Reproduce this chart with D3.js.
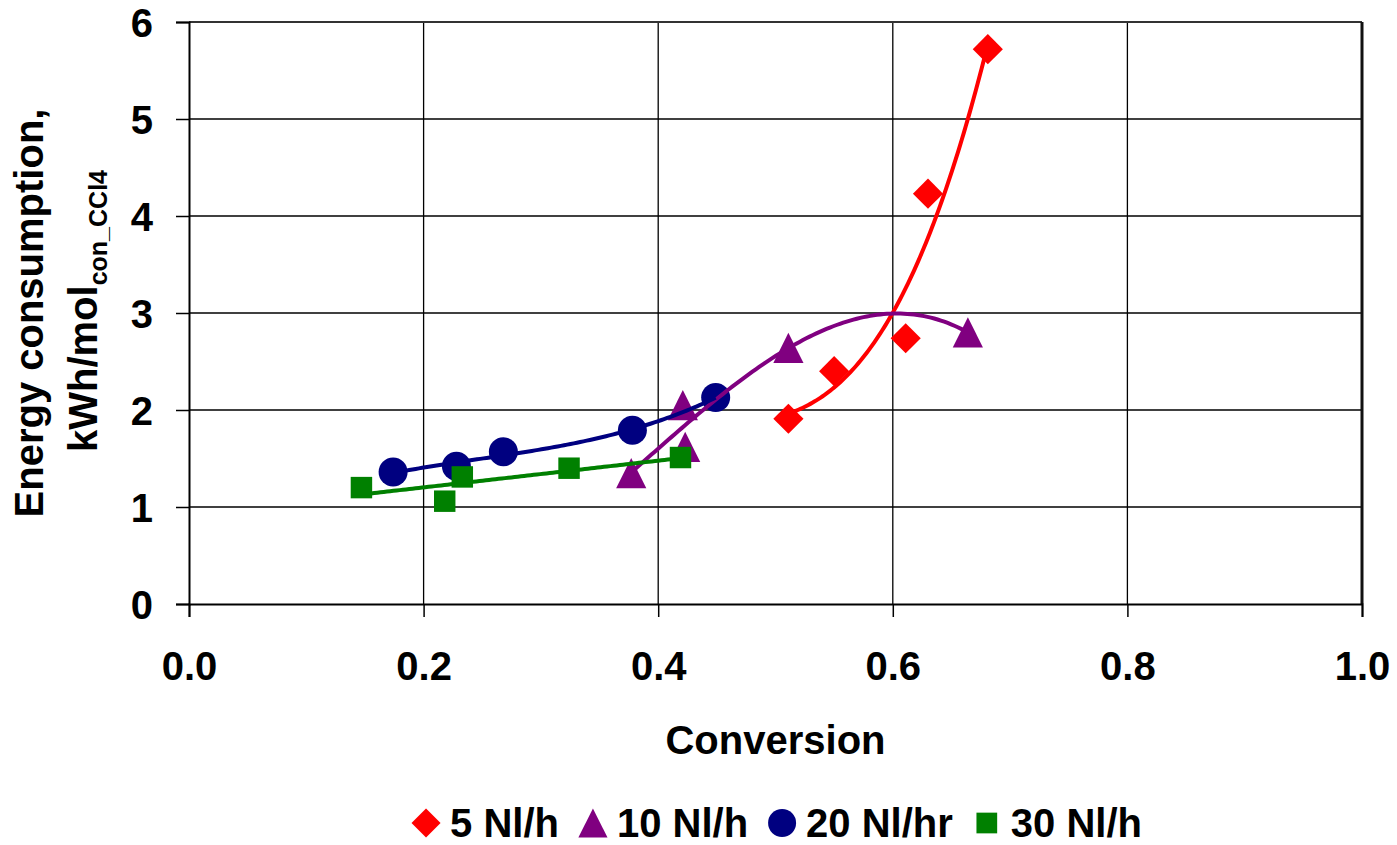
<!DOCTYPE html>
<html>
<head>
<meta charset="utf-8">
<script src="https://cdn.jsdelivr.net/npm/d3@7"></script>
<style>
  body { margin: 0; background: #fff; }
  text { font-family: 'Liberation Sans', Arial, sans-serif; font-weight: bold; fill: #000; }
</style>
</head>
<body>
<svg id="chart" width="1397" height="845"></svg>
<script>
// values
var seriesNames = ['5 Nl/h', '10 Nl/h', '20 Nl/hr', '30 Nl/h']
var x5 = [0.511, 0.550, 0.611, 0.630, 0.681]
var y5 = [1.91, 2.40, 2.74, 4.23, 5.72]
var x10 = [0.377, 0.423, 0.421, 0.511, 0.664]
var y10 = [1.35, 1.62, 2.05, 2.64, 2.80]
var x20 = [0.174, 0.228, 0.268, 0.378, 0.449]
var y20 = [1.36, 1.42, 1.57, 1.79, 2.13]
var x30 = [0.147, 0.218, 0.233, 0.324, 0.419]
var y30 = [1.20, 1.06, 1.31, 1.40, 1.51]
var xTicks = [0, 0.2, 0.4, 0.6, 0.8, 1.0]
var yTicks = [0, 1, 2, 3, 4, 5, 6]

var colors = ['#ff0000', '#800080', '#000080', '#008000']
var shapes = ['diamond', 'triangle', 'circle', 'square']
// trend line order used for each series (Excel polynomial / linear)
var trendOrder = [3, 3, 3, 1]

var series = [[x5, y5], [x10, y10], [x20, y20], [x30, y30]].map(function(s, i) {
  return {
    name: seriesNames[i], color: colors[i], shape: shapes[i], order: trendOrder[i],
    points: s[0].map(function(x, j) { return [x, s[1][j]] })
  }
})

var margin = {top: 22, right: 35, bottom: 241, left: 189}
var width = 1397 - margin.left - margin.right,
  height = 845 - margin.top - margin.bottom

var svg = d3.select('#chart')
var g = svg.append('g').attr('transform', 'translate(' + margin.left + ',' + margin.top + ')')

var x = d3.scaleLinear().domain([0, 1]).range([0, width])
var y = d3.scaleLinear().domain([0, 6]).range([height, 0])

// least squares polynomial fit
function polyfit(pts, order) {
  var n = order + 1
  var A = d3.range(n).map(function() { return d3.range(n + 1).map(function() { return 0 }) })
  pts.forEach(function(p) {
    for (var i = 0; i < n; i++) {
      for (var j = 0; j < n; j++) A[i][j] += Math.pow(p[0], i + j)
      A[i][n] += Math.pow(p[0], i) * p[1]
    }
  })
  for (var c = 0; c < n; c++) {
    var piv = c
    for (var r = c + 1; r < n; r++) if (Math.abs(A[r][c]) > Math.abs(A[piv][c])) piv = r
    var tmp = A[c]; A[c] = A[piv]; A[piv] = tmp
    for (var r2 = 0; r2 < n; r2++) {
      if (r2 === c) continue
      var f = A[r2][c] / A[c][c]
      for (var k = c; k <= n; k++) A[r2][k] -= f * A[c][k]
    }
  }
  var coef = A.map(function(row, i) { return row[n] / row[i] })
  return function(v) { return d3.sum(coef, function(a, i) { return a * Math.pow(v, i) }) }
}

function markerPath(shape, s) {
  var p = d3.path()
  if (shape === 'diamond') {
    var h = s * 0.52
    p.moveTo(0, -h); p.lineTo(h, 0); p.lineTo(0, h); p.lineTo(-h, 0); p.closePath()
  } else if (shape === 'triangle') {
    var w = s * 0.52
    p.moveTo(0, -w); p.lineTo(w, w); p.lineTo(-w, w); p.closePath()
  } else if (shape === 'circle') {
    p.arc(0, 0, s * 0.5, 0, 2 * Math.PI)
  } else {
    var q = s * 0.37
    p.rect(-q, -q, 2 * q, 2 * q)
  }
  return p.toString()
}

// gridlines
g.append('g').selectAll('line').data(xTicks.slice(1))
  .enter().append('line')
  .attr('x1', function(d) { return x(d) }).attr('x2', function(d) { return x(d) })
  .attr('y1', 0).attr('y2', height)
  .attr('stroke', '#000').attr('stroke-width', 1.3)

g.append('g').selectAll('line').data(yTicks.slice(1))
  .enter().append('line')
  .attr('x1', 0).attr('x2', width)
  .attr('y1', function(d) { return y(d) }).attr('y2', function(d) { return y(d) })
  .attr('stroke', '#000').attr('stroke-width', 1.3)

g.append('line').attr('x1', 0).attr('x2', width).attr('y1', 0).attr('y2', 0)
  .attr('stroke', '#333').attr('stroke-width', 2)
g.append('line').attr('x1', width).attr('x2', width).attr('y1', 0).attr('y2', height)
  .attr('stroke', '#111').attr('stroke-width', 3)

// axes
var yAxis = g.append('g')
  .call(d3.axisLeft(y).tickValues(yTicks).tickSize(13).tickPadding(23).tickFormat(d3.format('d')))
var xAxis = g.append('g')
  .attr('transform', 'translate(0,' + height + ')')
  .call(d3.axisBottom(x).tickValues(xTicks).tickSize(13).tickPadding(35).tickFormat(d3.format('.1f')))

;[xAxis, yAxis].forEach(function(a) {
  a.select('.domain').attr('stroke', '#000').attr('stroke-width', 2)
  a.selectAll('.tick line').attr('stroke', '#000').attr('stroke-width', 1.5)
  a.selectAll('text').attr('font-size', 40).attr('fill', '#000')
    .style('font-family', "'Liberation Sans', Arial, sans-serif").style('font-weight', 'bold')
})
yAxis.selectAll('text').attr('dy', '0.36em')
xAxis.selectAll('text').attr('dy', '0.71em')

// markers first, Excel puts trend lines on top
series.forEach(function(s) {
  g.append('g').selectAll('path').data(s.points)
    .enter().append('path')
    .attr('transform', function(d) { return 'translate(' + x(d[0]) + ',' + y(d[1]) + ')' })
    .attr('d', markerPath(s.shape, 29))
    .attr('fill', s.color)
})

// trend lines
var line = d3.line().x(function(d) { return x(d[0]) }).y(function(d) { return y(d[1]) })
series.forEach(function(s) {
  var fit = polyfit(s.points, s.order)
  var ext = d3.extent(s.points, function(d) { return d[0] })
  var curve = d3.range(0, 101).map(function(i) {
    var v = ext[0] + (ext[1] - ext[0]) * i / 100
    return [v, fit(v)]
  })
  g.append('path').datum(curve)
    .attr('d', line)
    .attr('fill', 'none')
    .attr('stroke', s.color)
    .attr('stroke-width', 4)
})

// axis titles
svg.append('text')
  .attr('x', margin.left + x(0.5)).attr('y', 754)
  .attr('text-anchor', 'middle').attr('font-size', 40)
  .text('Conversion')

svg.append('text')
  .attr('transform', 'translate(43,313) rotate(-90)')
  .attr('text-anchor', 'middle').attr('font-size', 40)
  .text('Energy consumption,')

var yl2 = svg.append('text')
  .attr('transform', 'translate(97,311) rotate(-90)')
  .attr('text-anchor', 'middle').attr('font-size', 40)
yl2.append('tspan').text('kWh/mol')
yl2.append('tspan').attr('font-size', 25).attr('dy', 10).text('con_CCl4')

// legend
var legend = svg.append('g')
var lx = 0
series.forEach(function(s) {
  var item = legend.append('g').attr('transform', 'translate(' + lx + ',0)')
  item.append('path')
    .attr('transform', 'translate(14,-14)')
    .attr('d', markerPath(s.shape, 28))
    .attr('fill', s.color)
  var t = item.append('text').attr('x', 38).attr('y', 0).attr('font-size', 40).text(s.name)
  lx += 38 + t.node().getComputedTextLength() + 20
})
var lw = lx - 20
legend.attr('transform', 'translate(' + (777 - lw / 2) + ',837)')
</script>
</body>
</html>
